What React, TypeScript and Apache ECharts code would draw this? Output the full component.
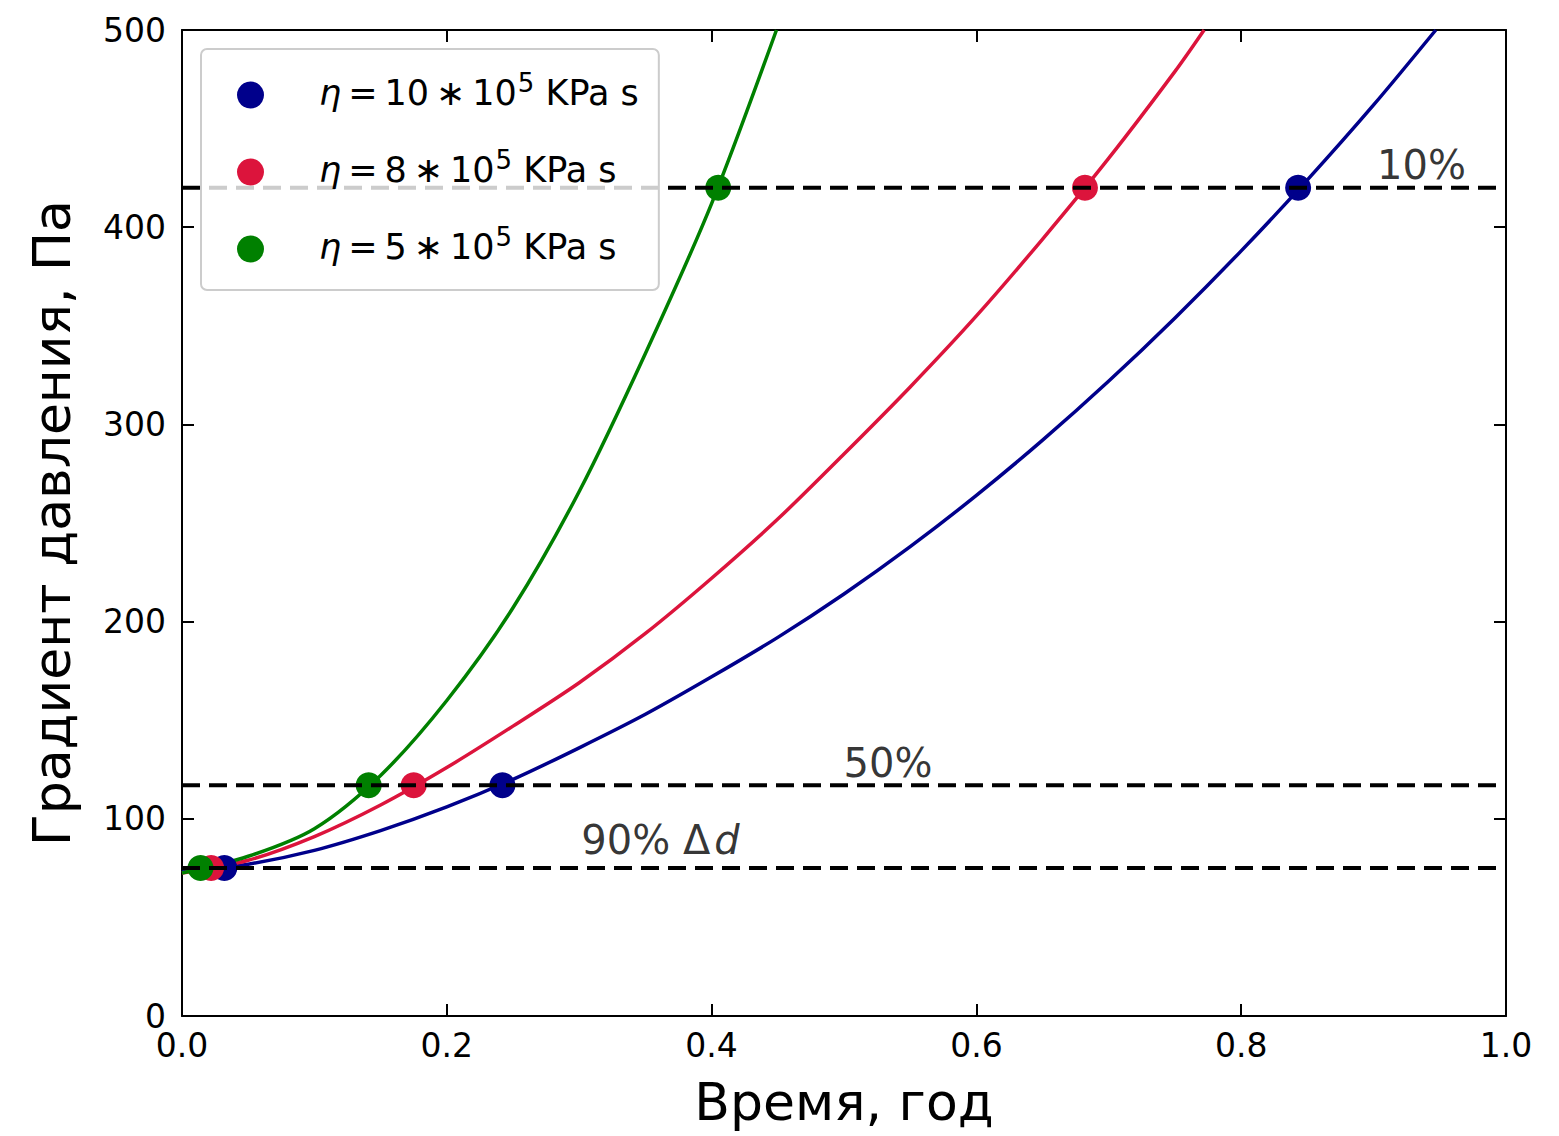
import React, { useEffect, useRef } from "react";
import * as echarts from "echarts";

// ---- data ----
const X_TICK_MIN = 0;
const X_TICK_MAX = 1;
const Y_TICK_MIN = 0;
const Y_TICK_MAX = 500;

const TIME_BLUE = [0, 0.05, 0.1, 0.15, 0.2, 0.25, 0.3, 0.35, 0.4, 0.45, 0.5, 0.55, 0.6, 0.65, 0.7, 0.75, 0.8, 0.85, 0.9, 0.947];
const GRAD_BLUE = [73, 77, 84, 94, 106, 120, 136, 153, 172, 192, 214, 238, 264, 292, 322, 354, 388, 424, 462, 500];

const TIME_RED = [0, 0.05, 0.1, 0.15, 0.2, 0.25, 0.3, 0.35, 0.4, 0.45, 0.5, 0.55, 0.6, 0.65, 0.7, 0.75, 0.772];
const GRAD_RED = [72.5, 79, 91, 107, 126, 147, 169, 194, 222, 252, 285, 319, 355, 394, 435, 479, 500];

const TIME_GREEN = [0, 0.05, 0.1, 0.15, 0.2, 0.25, 0.3, 0.35, 0.4, 0.449];
const GRAD_GREEN = [72.5, 81, 95, 122, 160, 207, 266, 336, 412, 500];

const LEVELS = [75, 117, 420]; // 90%, 50%, 10%
const MARK_BLUE = [0.032, 0.242, 0.843];
const MARK_RED = [0.022, 0.175, 0.682];
const MARK_GREEN = [0.014, 0.141, 0.405];

const SERIES_NAMES = ["η = 10 * 10^5 KPa s", "η = 8 * 10^5 KPa s", "η = 5 * 10^5 KPa s"];
const LEGEND_COEF = ["10", "8", "5"];
const COLORS = ["#00008B", "#DC143C", "#008000"];

const ANNOTATIONS = [
  { x: 0.903, y: 421, text: "{n|10%}" },
  { x: 0.5, y: 118, text: "{n|50%}" },
  { x: 0.302, y: 79, text: "{n|90% Δ}{i|d}" },
];

const FONT = "DejaVu Sans";

function zip(xs: number[], ys: number[]) {
  return xs.map((x, i) => [x, ys[i]]);
}

export default function App() {
  const ref = useRef<HTMLDivElement>(null);

  useEffect(() => {
    if (!ref.current) return;
    const chart = echarts.init(ref.current, null, { renderer: "svg" });

    const curves = [
      zip(TIME_BLUE, GRAD_BLUE),
      zip(TIME_RED, GRAD_RED),
      zip(TIME_GREEN, GRAD_GREEN),
    ];
    const marks = [MARK_BLUE, MARK_RED, MARK_GREEN].map((ts) => zip(ts, LEVELS));

    const axisLine = { show: true, onZero: false, lineStyle: { color: "#000", width: 2 } };
    const axisTick = { show: true, inside: true, length: 12, lineStyle: { color: "#000", width: 2 } };

    const lineSeries = curves.map((d, i) => ({
      type: "line",
      name: "curve" + i,
      data: d,
      smooth: 0.3,
      showSymbol: false,
      symbol: "none",
      clip: true,
      lineStyle: { color: COLORS[i], width: 3.5 },
      z: 2,
      silent: true,
    }));

    const scatterSeries = marks.map((d, i) => ({
      type: "scatter",
      name: SERIES_NAMES[i],
      data: d,
      symbol: "circle",
      symbolSize: 26,
      itemStyle: { color: COLORS[i], opacity: 1 },
      z: 3,
      silent: true,
    }));

    const dashSeries = LEVELS.map((lv, i) => ({
      type: "line",
      name: "level" + i,
      data: [
        [X_TICK_MIN, lv],
        [X_TICK_MAX, lv],
      ],
      symbol: "none",
      showSymbol: false,
      lineStyle: { color: "#000", width: 4, type: [18, 9] },
      z: 4,
      silent: true,
    }));

    const annSeries = ANNOTATIONS.map((a, i) => ({
      type: "scatter",
      name: "ann" + i,
      data: [[a.x, a.y]],
      symbolSize: 1,
      itemStyle: { color: "rgba(0,0,0,0)" },
      z: 5,
      silent: true,
      label: {
        show: true,
        position: [0, 0],
        align: "left",
        verticalAlign: "bottom",
        color: "#000",
        formatter: a.text,
        rich: {
          n: { fontSize: 40, fontFamily: FONT, color: "#000" },
          i: { fontSize: 40, fontFamily: FONT, fontStyle: "italic", color: "#000", padding: [0, 0, 0, 4] },
        },
      },
    }));

    const legendRich: Record<string, string> = {};
    SERIES_NAMES.forEach((n, i) => {
      legendRich[n] = `{e|η}{n|\u2009=\u2009${LEGEND_COEF[i]}\u2009∗\u200910}{s|5}{n| KPa s}`;
    });

    chart.setOption({
      animation: false,
      backgroundColor: "#fff",
      grid: { left: 182, right: 53, top: 30, bottom: 120, containLabel: false, outerBoundsMode: "none" },
      xAxis: [
        {
          type: "value",
          min: X_TICK_MIN,
          max: X_TICK_MAX,
          interval: 0.2,
          position: "bottom",
          name: "Время, год",
          nameLocation: "middle",
          nameGap: 60,
          nameTextStyle: { fontSize: 52, color: "#000", fontFamily: FONT },
          axisLine,
          axisTick,
          axisLabel: {
            formatter: (v: number) => v.toFixed(1),
            fontSize: 33,
            color: "#000",
            fontFamily: FONT,
            margin: 13,
          },
          splitLine: { show: false },
        },
        {
          type: "value",
          min: X_TICK_MIN,
          max: X_TICK_MAX,
          interval: 0.2,
          position: "top",
          axisLine,
          axisTick,
          axisLabel: { show: false },
          splitLine: { show: false },
        },
      ],
      yAxis: [
        {
          type: "value",
          min: Y_TICK_MIN,
          max: Y_TICK_MAX,
          interval: 100,
          position: "left",
          name: "Градиент давления, Па",
          nameLocation: "middle",
          nameGap: 104,
          nameTextStyle: { fontSize: 52, color: "#000", fontFamily: FONT },
          axisLine,
          axisTick,
          axisLabel: { fontSize: 33, color: "#000", fontFamily: FONT, margin: 16 },
          splitLine: { show: false },
        },
        {
          type: "value",
          min: Y_TICK_MIN,
          max: Y_TICK_MAX,
          interval: 100,
          position: "right",
          axisLine,
          axisTick,
          axisLabel: { show: false },
          splitLine: { show: false },
        },
      ],
      legend: {
        data: SERIES_NAMES,
        orient: "vertical",
        left: 201,
        top: 49,
        padding: [21, 20, 26, 36],
        itemWidth: 27,
        itemHeight: 27,
        itemGap: 37,
        icon: "circle",
        selectedMode: false,
        backgroundColor: "rgba(255,255,255,0.8)",
        borderColor: "#cccccc",
        borderWidth: 2,
        borderRadius: 6,
        z: 10,
        formatter: (name: string) => legendRich[name],
        textStyle: {
          fontSize: 35,
          color: "#000",
          fontFamily: FONT,
          rich: {
            e: { fontSize: 35, fontStyle: "italic", fontFamily: FONT, color: "#000", padding: [0, 0, 10, 50], verticalAlign: "bottom" },
            n: { fontSize: 35, fontFamily: FONT, color: "#000", verticalAlign: "bottom", padding: [0, 0, 10, 0] },
            s: { fontSize: 26, fontFamily: FONT, color: "#000", verticalAlign: "bottom", padding: [0, 0, 24, 1] },
          },
        },
      },
      series: [...lineSeries, ...scatterSeries, ...dashSeries, ...annSeries],
    });

    return () => {
      chart.dispose();
    };
  }, []);

  return (
    <div
      ref={ref}
      style={{ position: "absolute", left: 0, top: 0, width: 1559, height: 1136, background: "#fff" }}
    />
  );
}
